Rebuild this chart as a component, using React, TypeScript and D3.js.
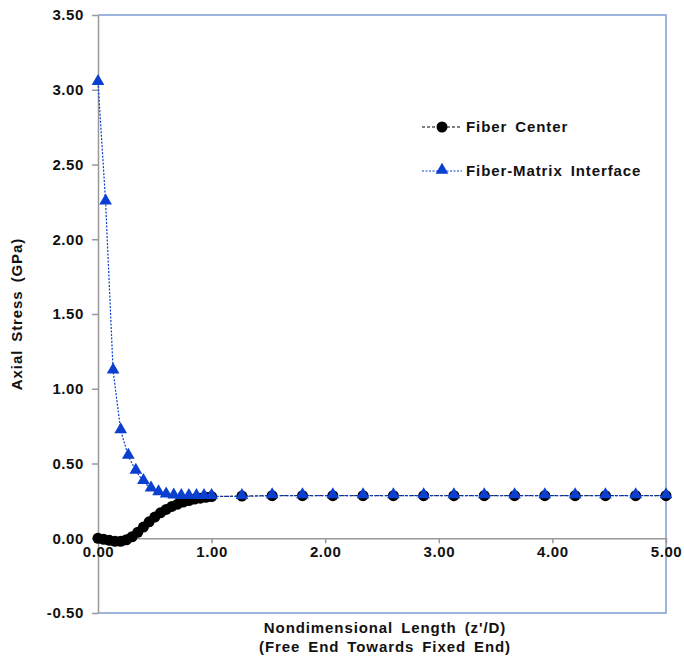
import React, { useEffect, useRef } from 'react';
import * as d3 from 'd3';

// Fiber center: fine grid (0.05) to 1.0, then coarse grid (4/15) to 5.0
const centerX = [
  0, 0.05, 0.1, 0.15, 0.2, 0.25, 0.3, 0.35, 0.4, 0.45, 0.5, 0.55, 0.6, 0.65, 0.7, 0.75, 0.8, 0.85, 0.9, 0.95, 1.0,
  1.267, 1.533, 1.8, 2.067, 2.333, 2.6, 2.867, 3.133, 3.4, 3.667, 3.933, 4.2, 4.467, 4.733, 5.0,
];
const centerY = [
  0.0, -0.007, -0.014, -0.02, -0.02, -0.01, 0.01, 0.04, 0.075, 0.11, 0.142, 0.17, 0.193, 0.213, 0.228, 0.242, 0.252, 0.262, 0.268, 0.274, 0.279,
  0.282, 0.285, 0.285, 0.285, 0.285, 0.285, 0.285, 0.285, 0.285, 0.285, 0.285, 0.285, 0.285, 0.285, 0.285,
];

// Fiber-matrix interface: grid of 1/15 to 1.0, then 4/15 to 5.0
const interfaceX = [
  0, 0.067, 0.133, 0.2, 0.267, 0.333, 0.4, 0.467, 0.533, 0.6, 0.667, 0.733, 0.8, 0.867, 0.933, 1.0,
  1.267, 1.533, 1.8, 2.067, 2.333, 2.6, 2.867, 3.133, 3.4, 3.667, 3.933, 4.2, 4.467, 4.733, 5.0,
];
const interfaceY = [
  3.05, 2.25, 1.12, 0.72, 0.55, 0.45, 0.38, 0.33, 0.305, 0.29, 0.283, 0.28, 0.28, 0.28, 0.28, 0.28,
  0.28, 0.285, 0.285, 0.285, 0.285, 0.285, 0.285, 0.285, 0.285, 0.285, 0.285, 0.285, 0.285, 0.285, 0.285,
];

const xTicks = [0, 1, 2, 3, 4, 5];
const yTicks = [-0.5, 0, 0.5, 1, 1.5, 2, 2.5, 3, 3.5];
const seriesNames = ['Fiber Center', 'Fiber-Matrix Interface'];

const App = () => {
  const ref = useRef<SVGSVGElement>(null);

  useEffect(() => {
    const W = 684;
    const H = 658;
    const left = 98, right = 666, top = 15, bottom = 613;
    const font = '"Liberation Sans", Arial, sans-serif';
    const blue = '#0a3fd0';
    const fmt = (d: number) => d.toFixed(2);

    const svg = d3.select(ref.current);
    svg.selectAll('*').remove();
    svg.attr('width', W).attr('height', H);

    const styleText = (sel: any, spacing = 0.6, words = 0) => sel
      .attr('fill', '#111')
      .style('font-family', font)
      .style('font-size', '15px')
      .style('font-weight', 'bold')
      .style('letter-spacing', `${spacing}px`)
      .style('word-spacing', `${words}px`);

    const x = d3.scaleLinear().domain([0, 5]).range([left, right]);
    const y = d3.scaleLinear().domain([-0.5, 3.5]).range([bottom, top]);

    svg.append('rect').attr('width', W).attr('height', H).attr('fill', '#fff');

    // plot frame (blue) top, right, bottom
    svg.append('path')
      .attr('d', `M${left},${top}H${right}V${bottom}H${left}`)
      .attr('fill', 'none')
      .attr('stroke', '#7f9fd0')
      .attr('stroke-width', 1.5);

    // y axis
    const yAxis = svg.append('g')
      .attr('transform', `translate(${left},0)`)
      .call(d3.axisLeft(y).tickValues(yTicks).tickSize(6).tickSizeOuter(0).tickFormat(fmt as any));
    yAxis.select('.domain').attr('stroke', '#999').attr('stroke-width', 1.5);
    yAxis.selectAll('.tick line').attr('stroke', '#999').attr('stroke-width', 1.5);
    styleText(yAxis.selectAll('.tick text').attr('x', -14));

    // x axis at y = 0
    const xAxis = svg.append('g')
      .attr('transform', `translate(0,${y(0)})`)
      .call(d3.axisBottom(x).tickValues(xTicks).tickSize(5).tickSizeOuter(0).tickFormat(fmt as any));
    xAxis.select('.domain').attr('stroke', '#999').attr('stroke-width', 1.5);
    xAxis.selectAll('.tick line').attr('stroke', '#999').attr('stroke-width', 1.5);
    styleText(xAxis.selectAll('.tick text').attr('y', 8));

    const line = d3.line<[number, number]>().x(d => x(d[0])).y(d => y(d[1]));
    const centerData = centerX.map((v, i) => [v, centerY[i]] as [number, number]);
    const interfaceData = interfaceX.map((v, i) => [v, interfaceY[i]] as [number, number]);

    const tri = d3.symbol().type(d3.symbolTriangle).size(70);

    // fiber center series
    svg.append('path')
      .datum(centerData)
      .attr('d', line)
      .attr('fill', 'none')
      .attr('stroke', '#000')
      .attr('stroke-width', 1)
      .attr('stroke-dasharray', '3,2');
    svg.selectAll('.cpt')
      .data(centerData)
      .enter()
      .append('circle')
      .attr('class', 'cpt')
      .attr('cx', d => x(d[0]))
      .attr('cy', d => y(d[1]))
      .attr('r', 5.5)
      .attr('fill', '#000');

    // interface series
    svg.append('path')
      .datum(interfaceData)
      .attr('d', line)
      .attr('fill', 'none')
      .attr('stroke', blue)
      .attr('stroke-width', 1.2)
      .attr('stroke-dasharray', '2,1.5');
    svg.selectAll('.ipt')
      .data(interfaceData)
      .enter()
      .append('path')
      .attr('class', 'ipt')
      .attr('transform', d => `translate(${x(d[0])},${y(d[1]) - 1})`)
      .attr('d', tri)
      .attr('fill', blue);

    // legend
    const legend = svg.append('g');
    const rows = [
      { yPos: 127, color: '#000', dash: '3,2', marker: 'circle' },
      { yPos: 171, color: blue, dash: '2,1.5', marker: 'tri' },
    ];
    rows.forEach((r, i) => {
      legend.append('line')
        .attr('x1', 422).attr('x2', 462)
        .attr('y1', r.yPos).attr('y2', r.yPos)
        .attr('stroke', r.color)
        .attr('stroke-width', 1)
        .attr('stroke-dasharray', r.dash);
      if (r.marker === 'circle') {
        legend.append('circle').attr('cx', 442).attr('cy', r.yPos).attr('r', 5.5).attr('fill', r.color);
      } else {
        legend.append('path').attr('transform', `translate(442,${r.yPos - 1})`).attr('d', tri).attr('fill', r.color);
      }
      styleText(legend.append('text')
        .attr('x', 466)
        .attr('y', r.yPos + 5), 0.9, 3)
        .text(seriesNames[i]);
    });

    // axis titles
    styleText(svg.append('text')
      .attr('transform', `translate(22,${(top + bottom) / 2}) rotate(-90)`)
      .attr('text-anchor', 'middle'), 0.9, 3)
      .text('Axial Stress (GPa)');

    const xt = styleText(svg.append('text').attr('text-anchor', 'middle'), 0.9, 3);
    xt.append('tspan').attr('x', 385).attr('y', 633).text("Nondimensional Length (z'/D)");
    xt.append('tspan').attr('x', 385).attr('y', 652).text('(Free End Towards Fixed End)');
  }, []);

  return <svg ref={ref} style={{ position: 'absolute', left: 0, top: 0 }} />;
};

export default App;
